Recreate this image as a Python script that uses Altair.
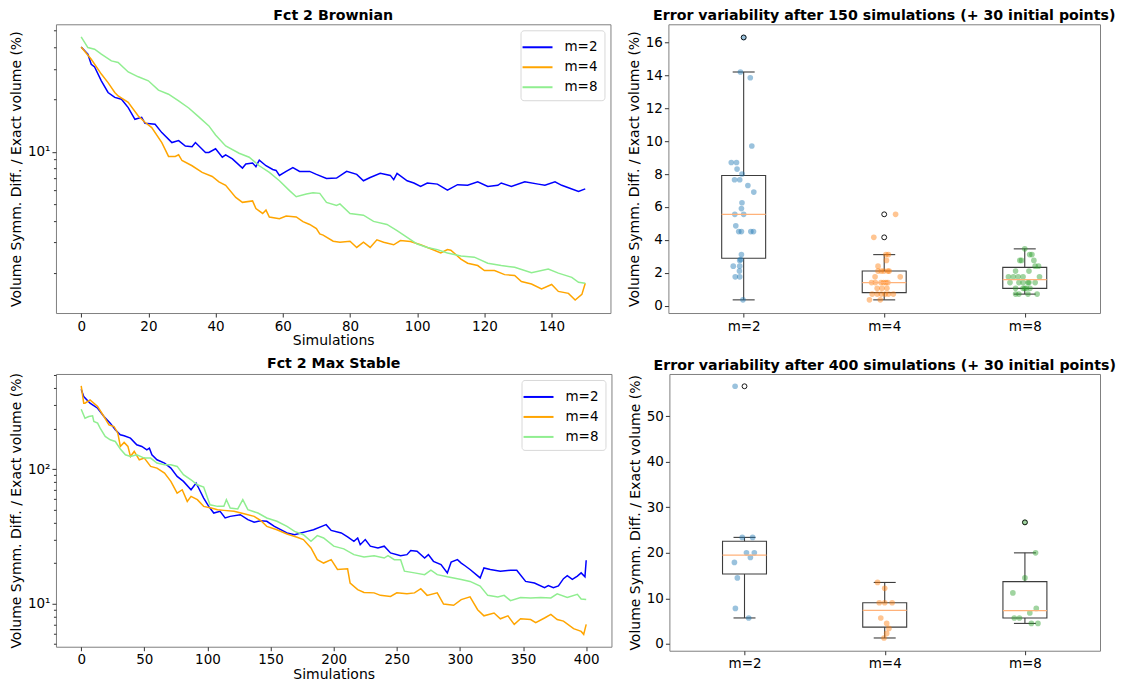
import altair as alt
import pandas as pd

CATS = ["m=2", "m=4", "m=8"]
LINE_COLORS = ["blue", "orange", "lightgreen"]
BOX_COLORS = ["#1f77b4", "#ff7f0e", "#2ca02c"]
YTITLE = "Volume Symm. Diff. / Exact volume (%)"
FONT = "DejaVu Sans"

# ---------- Fct 2 Brownian (error vs simulations) ----------
BR_X_M2 = [0, 2, 3, 4, 6, 8, 10, 12, 14, 16, 18, 19, 22, 24, 27, 29, 31, 33, 34, 37,
           38, 40, 42, 43, 45, 48, 49, 51, 52, 53, 55, 57, 58, 59, 61, 63, 65, 68, 70, 73,
           76, 79, 82, 84, 86, 89, 92, 93, 94, 97, 99, 101, 103, 106, 109, 112, 115, 118, 121, 124,
           125, 128, 132, 136, 138, 141, 143, 145, 148, 150]
BR_Y_M2 = [40.3, 36.6, 32.0, 30.9, 25.7, 22.0, 20.6, 20.1, 18.0, 15.4,
           15.8, 14.6, 14.4, 12.9, 11.3, 11.6, 10.8, 10.7, 11.3, 9.9,
           9.9, 10.4, 9.3, 9.6, 9.1, 8.05, 8.5, 8.6, 8.2, 8.95,
           8.3, 7.9, 7.8, 7.3, 7.7, 8.1, 7.7, 7.7, 7.4, 7.0,
           7.05, 7.7, 7.4, 6.8, 7.1, 7.5, 7.3, 6.9, 7.5, 6.8,
           6.6, 6.3, 6.6, 6.5, 6.0, 6.45, 6.4, 6.7, 6.3, 6.4,
           6.6, 6.3, 6.7, 6.5, 6.4, 6.7, 6.4, 6.2, 5.9, 6.1]
BR_X_M4 = [0, 3, 6, 8, 10, 11, 14, 17, 19, 21, 24, 26, 28, 29, 30, 33, 36, 39, 41, 43,
           46, 48, 51, 52, 54, 55, 56, 59, 61, 64, 66, 68, 70, 71, 72, 75, 77, 80, 82, 84,
           86, 88, 90, 93, 95, 98, 101, 104, 107, 109, 110, 113, 115, 118, 120, 123, 126, 129, 131, 134,
           137, 140, 142, 145, 147, 149, 150]
BR_Y_M4 = [40.3, 34.2, 28.1, 25.1, 22.0, 21.0, 19.3, 16.1, 14.8, 13.8,
           11.3, 9.4, 9.4, 9.6, 8.9, 8.3, 7.6, 7.2, 6.7, 6.4,
           5.45, 5.1, 5.2, 4.7, 4.4, 4.6, 4.2, 4.1, 4.25, 4.2,
           3.95, 3.8, 3.6, 3.35, 3.3, 3.04, 3.0, 3.04, 2.8, 3.0,
           2.8, 3.1, 3.0, 2.9, 3.07, 3.03, 2.9, 2.75, 2.6, 2.72,
           2.7, 2.4, 2.27, 2.2, 2.06, 2.06, 1.95, 1.93, 1.78, 1.72,
           1.61, 1.71, 1.56, 1.52, 1.39, 1.50, 1.74]
BR_X_M8 = [0, 2, 4, 6, 9, 11, 14, 17, 20, 23, 26, 29, 32, 35, 38, 40, 43, 47, 50, 53,
           56, 59, 62, 64, 67, 69, 71, 73, 76, 77, 80, 84, 87, 91, 94, 97, 100, 103, 106, 109,
           113, 117, 121, 125, 129, 134, 139, 142, 146, 148, 150]
BR_Y_M8 = [46.1, 40.0, 39.1, 36.6, 33.5, 32.8, 28.9, 27.1, 25.7, 22.7,
           21.5, 19.7, 17.9, 15.9, 14.1, 12.5, 10.8, 9.8, 9.3, 8.3,
           7.6, 6.8, 5.96, 5.5, 5.7, 5.8, 5.75, 5.1, 4.9, 5.0,
           4.4, 4.3, 3.96, 3.8, 3.5, 3.2, 2.93, 2.8, 2.72, 2.6,
           2.5, 2.46, 2.27, 2.2, 2.15, 2.0, 2.1, 1.99, 1.88, 1.76, 1.74]

# ---------- Fct 2 Max Stable (error vs simulations) ----------
MS_X_M2 = [0, 2, 7, 13, 18, 23, 27, 31, 34, 39, 44, 48, 52, 54, 56, 60, 66, 71, 76, 81,
           87, 91, 93, 97, 101, 105, 110, 114, 118, 126, 132, 137, 142, 147, 153, 158, 163, 169, 174, 179,
           184, 192, 194, 198, 206, 211, 216, 219, 221, 225, 229, 235, 240, 245, 253, 258, 261, 266, 272, 275,
           279, 285, 290, 293, 298, 301, 304, 308, 316, 319, 324, 332, 340, 345, 352, 359, 367, 370, 374, 378,
           382, 385, 389, 393, 396, 399, 400]
MS_Y_M2 = [392.8, 346.4, 309.2, 283.8, 246.1, 219.6, 196.0, 179.9, 176.8, 169.9,
           151.6, 147.4, 139.2, 143.2, 127.8, 117.3, 110.8, 101.7, 88.2, 81.0,
           70.2, 78.7, 72.3, 60.9, 52.8, 47.1, 48.5, 43.3, 44.5, 45.8,
           42.1, 40.2, 41.3, 40.9, 37.5, 35.4, 33.5, 32.5, 33.5, 34.4,
           35.4, 38.0, 38.6, 35.0, 33.5, 31.3, 29.0, 30.7, 27.4, 29.9,
           26.7, 25.9, 26.7, 23.8, 22.7, 23.1, 24.8, 24.5, 21.8, 23.1,
           20.6, 19.5, 16.9, 20.3, 21.2, 20.0, 19.1, 17.9, 15.5, 18.4,
           17.9, 17.4, 17.7, 17.7, 14.6, 14.2, 13.1, 13.6, 13.1, 13.5,
           15.3, 16.1, 15.1, 16.0, 16.9, 15.8, 21.0]
MS_X_M4 = [0, 2, 3, 7, 13, 18, 22, 26, 29, 31, 34, 37, 39, 42, 46, 50, 55, 60, 66, 71,
           76, 80, 84, 87, 92, 97, 103, 108, 113, 121, 129, 137, 142, 147, 155, 163, 171, 176, 182, 187,
           192, 198, 203, 211, 213, 219, 224, 232, 237, 245, 250, 258, 264, 269, 274, 282, 287, 295, 301, 308,
           314, 319, 327, 332, 338, 343, 348, 356, 360, 367, 372, 377, 382, 390, 396, 398, 400]
MS_Y_M4 = [415.8, 309.2, 309.2, 327.2, 292.0, 246.1, 213.4, 207.4, 185.1, 147.4,
           157.8, 147.4, 124.2, 135.3, 117.3, 120.7, 104.7, 101.7, 93.4, 81.0,
           66.3, 70.2, 57.5, 62.7, 59.2, 52.8, 51.3, 49.9, 49.3, 48.5,
           46.6, 44.5, 41.6, 37.5, 35.4, 32.9, 31.1, 29.9, 25.9, 21.2,
           20.0, 21.2, 17.9, 18.1, 14.2, 12.7, 12.1, 12.0, 11.5, 11.3,
           12.0, 11.8, 12.0, 12.9, 11.5, 12.0, 9.9, 9.7, 10.7, 11.2,
           9.0, 8.1, 8.5, 7.7, 8.1, 7.0, 7.7, 7.6, 7.2, 7.8,
           8.3, 7.6, 7.4, 6.5, 6.2, 5.9, 7.0]
MS_X_M8 = [0, 3, 6, 9, 10, 13, 15, 19, 23, 27, 31, 35, 39, 44, 50, 55, 60, 66, 71, 76,
           81, 87, 92, 97, 102, 108, 113, 115, 118, 124, 128, 132, 140, 147, 155, 163, 169, 176, 182, 187,
           192, 200, 208, 216, 224, 232, 240, 243, 248, 253, 256, 264, 272, 277, 282, 290, 301, 308, 316, 322,
           330, 335, 340, 348, 356, 364, 372, 377, 385, 393, 396, 400]
MS_Y_M8 = [278.9, 239.2, 246.1, 248.9, 225.9, 219.6, 201.6, 174.8, 165.2, 160.5,
           140.8, 127.8, 124.2, 127.8, 120.7, 120.7, 110.8, 107.7, 107.7, 104.7,
           90.8, 83.3, 76.5, 73.5, 54.3, 52.8, 52.8, 59.2, 51.3, 50.5,
           59.2, 49.9, 47.1, 43.3, 40.9, 37.5, 34.4, 32.5, 29.0, 32.0,
           30.7, 26.7, 25.5, 23.1, 22.2, 22.7, 21.8, 22.7, 21.2, 21.2,
           17.4, 16.9, 16.4, 17.7, 16.4, 15.8, 15.1, 14.6, 13.5, 11.5,
           11.2, 11.5, 10.5, 11.1, 11.0, 11.1, 11.0, 11.8, 11.1, 11.7,
           10.8, 10.7]

# ---------- Error variability after 150 simulations ----------
B150_M2_VAL = [16.3, 14.2, 13.85, 9.7, 8.7, 8.7, 8.3, 8.0, 7.65, 7.65,
               7.3, 6.9, 6.25, 5.9, 5.55, 5.55, 4.85, 4.5, 4.5, 4.5,
               4.5, 3.1, 2.8, 2.75, 2.4, 2.4, 2.1, 1.75, 1.75, 0.35]
B150_M2_OFF = [0.0, -0.023, 0.047, 0.058, -0.088, -0.051, -0.047, -0.012, -0.065, -0.028,
               0.030, 0.072, -0.012, -0.016, -0.063, 0.0, -0.056, -0.035, -0.016, 0.051,
               0.070, -0.016, -0.021, -0.028, -0.074, -0.028, -0.030, -0.060, -0.028, -0.005]
B150_M4_VAL = [0.35, 0.35, 0.7, 0.7, 0.7, 0.7, 0.7, 0.7, 1.05, 1.05,
               1.05, 1.4, 1.4, 1.4, 1.4, 1.4, 1.4, 1.75, 1.75, 2.1,
               2.1, 2.1, 2.1, 2.1, 2.4, 2.75, 3.1, 3.1, 4.15, 5.55]
B150_M4_OFF = [-0.105, -0.028, -0.086, -0.021, 0.030, 0.065, -0.050, 0.007, -0.050, 0.019,
               -0.016, -0.090, -0.023, -0.005, 0.026, -0.063, 0.012, -0.065, 0.114, -0.044,
               -0.021, -0.002, 0.026, 0.035, -0.044, 0.016, 0.012, 0.030, -0.074, 0.081]
B150_M8_VAL = [0.7, 0.7, 0.7, 0.7, 1.05, 1.05, 1.05, 1.05, 1.05, 1.4,
               1.4, 1.4, 1.4, 1.4, 1.4, 1.75, 1.75, 1.75, 1.75, 1.75,
               2.1, 2.1, 2.4, 2.4, 2.75, 2.75, 2.75, 3.1, 3.1, 3.45]
B150_M8_OFF = [-0.042, 0.023, 0.088, -0.065, -0.065, -0.012, 0.0, 0.037, 0.012, -0.105,
               -0.042, 0.023, 0.030, 0.074, -0.012, -0.116, -0.081, -0.047, -0.012, 0.105,
               -0.065, 0.030, 0.074, 0.098, -0.035, -0.023, 0.065, 0.051, 0.035, 0.0]

# ---------- Error variability after 400 simulations ----------
B400_M2_VAL = [56.6, 23.4, 23.4, 20.0, 20.0, 19.0, 17.9, 14.5, 7.8, 5.7]
B400_M2_OFF = [-0.067, -0.016, 0.058, 0.014, 0.070, 0.042, -0.072, -0.051, -0.065, 0.030]
B400_M4_VAL = [13.5, 12.2, 9.05, 9.05, 9.05, 5.7, 4.5, 3.4, 2.3, 1.3]
B400_M4_OFF = [-0.051, 0.0, -0.039, 0.0, 0.053, -0.028, 0.014, 0.030, 0.014, -0.005]
B400_M8_VAL = [26.7, 20.0, 14.5, 11.2, 7.8, 6.8, 5.7, 5.7, 4.5, 4.5]
B400_M8_OFF = [0.0, 0.076, 0.0, -0.086, 0.081, 0.035, -0.076, -0.039, 0.046, 0.093]

TITLE_SIZE = 14.2


def title(t):
    return alt.TitleParams(t, fontSize=TITLE_SIZE, fontWeight="bold", font=FONT,
                           anchor="middle", offset=1, color="black")


def line_panel(series, ttl, xdom, xvals, ydom, yvals, w, h):
    rows = []
    for cat, xs, ys in series:
        for x, y in zip(xs, ys):
            rows.append({"series": cat, "sim": x, "err": y})
    df = pd.DataFrame(rows)
    lab = "datum.value == 10 ? '10\u00b9' : datum.value == 100 ? '10\u00b2' : ''"
    return alt.Chart(df).mark_line(strokeWidth=1.5).encode(
        x=alt.X("sim:Q", scale=alt.Scale(domain=xdom, nice=False, zero=False),
                axis=alt.Axis(values=xvals, title="Simulations", titlePadding=1)),
        y=alt.Y("err:Q", scale=alt.Scale(type="log", domain=ydom, nice=False),
                axis=alt.Axis(values=yvals, labelExpr=lab, title=YTITLE,
                              tickSize={"condition": {"test": "datum.value == 10 || datum.value == 100",
                                                      "value": 4}, "value": 2.5})),
        color=alt.Color("series:N", scale=alt.Scale(domain=CATS, range=LINE_COLORS),
                        legend=alt.Legend(orient="top-right", title=None, offset=6,
                                          symbolType="M-1.5,0L1.5,0", symbolSize=400,
                                          symbolStrokeWidth=2, labelFontSize=13.5,
                                          labelFont=FONT, fillColor="white",
                                          strokeColor="#d8d8d8", cornerRadius=3,
                                          padding=6, rowPadding=2, labelOffset=16)),
        detail="series:N",
    ).properties(width=w, height=h, title=title(ttl))


def box_panel(vals_list, offs_list, ttl, ydom, yvals, w, h):
    rows = []
    for i, (cat, vals, offs) in enumerate(zip(CATS, vals_list, offs_list)):
        for v, o in zip(vals, offs):
            rows.append({"grp": cat, "pos": i + 1, "value": v, "xj": i + 1 + o})
    df = pd.DataFrame(rows)
    base = alt.Chart(df)
    xsc = alt.Scale(domain=[0.5, 3.5], nice=False, zero=False)
    ysc = alt.Scale(domain=ydom, nice=False, zero=False)
    lab = "datum.value == 1 ? '%s' : datum.value == 2 ? '%s' : '%s'" % tuple(CATS)
    xax = alt.Axis(values=[1, 2, 3], labelExpr=lab, title=None)
    yax = alt.Axis(values=yvals, title=YTITLE)

    def X(f):
        return alt.X(f, type="quantitative", scale=xsc, axis=xax)

    def Y(f):
        return alt.Y(f, type="quantitative", scale=ysc, axis=yax)

    stats = base.transform_aggregate(q1="q1(value)", q3="q3(value)", med="median(value)",
                                     groupby=["pos"])
    fences = base.transform_joinaggregate(q1="q1(value)", q3="q3(value)", groupby=["pos"]) \
        .transform_calculate(lo="datum.q1 - 1.5*(datum.q3 - datum.q1)",
                             hi="datum.q3 + 1.5*(datum.q3 - datum.q1)")
    wh = fences.transform_filter("datum.value >= datum.lo && datum.value <= datum.hi") \
        .transform_aggregate(wlo="min(value)", whi="max(value)", bq1="max(q1)", bq3="max(q3)",
                             groupby=["pos"])
    out = fences.transform_filter("datum.value < datum.lo || datum.value > datum.hi")

    gray = "#3c3c3c"
    r_lo = wh.mark_rule(color=gray, strokeWidth=1.1).encode(x=X("pos"), y=Y("wlo"), y2="bq1:Q")
    r_hi = wh.mark_rule(color=gray, strokeWidth=1.1).encode(x=X("pos"), y=Y("bq3"), y2="whi:Q")
    c_lo = wh.mark_tick(orient="horizontal", size=22, thickness=1.1, color=gray, opacity=1) \
        .encode(x=X("pos"), y=Y("wlo"))
    c_hi = wh.mark_tick(orient="horizontal", size=22, thickness=1.1, color=gray, opacity=1) \
        .encode(x=X("pos"), y=Y("whi"))
    box = stats.mark_bar(size=44, fill="white", fillOpacity=0, stroke=gray, strokeWidth=1.1) \
        .encode(x=X("pos"), y=Y("q1"), y2="q3:Q")
    pts = base.mark_circle(size=32, opacity=0.45).encode(
        x=X("xj"), y=Y("value"),
        fill=alt.Fill("grp:N", scale=alt.Scale(domain=CATS, range=BOX_COLORS), legend=None))
    med = stats.mark_tick(orient="horizontal", size=44, thickness=1.2, color="#ffb27a", opacity=1) \
        .encode(x=X("pos"), y=Y("med"))
    outl = out.mark_point(shape="circle", filled=False, color="black", size=24, strokeWidth=0.9,
                          opacity=1).encode(x=X("pos"), y=Y("value"))
    return alt.layer(r_lo, r_hi, c_lo, c_hi, box, pts, med, outl).properties(
        width=w, height=h, title=title(ttl))


tl = line_panel([("m=2", BR_X_M2, BR_Y_M2), ("m=4", BR_X_M4, BR_Y_M4), ("m=8", BR_X_M8, BR_Y_M8)],
                "Fct 2 Brownian", [-7.5, 157.5], [0, 20, 40, 60, 80, 100, 120, 140],
                [1.17, 54.5], [2, 3, 4, 5, 6, 7, 8, 9, 10, 20, 30, 40, 50], 555, 289)
bl = line_panel([("m=2", MS_X_M2, MS_Y_M2), ("m=4", MS_X_M4, MS_Y_M4), ("m=8", MS_X_M8, MS_Y_M8)],
                "Fct 2 Max Stable", [-20, 420], [0, 50, 100, 150, 200, 250, 300, 350, 400],
                [4.77, 510], [5, 6, 7, 8, 9, 10, 20, 30, 40, 50, 60, 70, 80, 90, 100, 200, 300, 400, 500],
                556, 273)
tr = box_panel([B150_M2_VAL, B150_M4_VAL, B150_M8_VAL], [B150_M2_OFF, B150_M4_OFF, B150_M8_OFF],
               "Error variability after 150 simulations (+ 30 initial points)",
               [-0.45, 17.1], [0, 2, 4, 6, 8, 10, 12, 14, 16], 432, 289)
br = box_panel([B400_M2_VAL, B400_M4_VAL, B400_M8_VAL], [B400_M2_OFF, B400_M4_OFF, B400_M8_OFF],
               "Error variability after 400 simulations (+ 30 initial points)",
               [-1.5, 59.3], [0, 10, 20, 30, 40, 50], 431, 277)

row1 = alt.hconcat(tl, tr, spacing=15).resolve_scale(color="independent", fill="independent") \
    .resolve_legend(color="independent", fill="independent")
row2 = alt.hconcat(bl, br, spacing=15).resolve_scale(color="independent", fill="independent") \
    .resolve_legend(color="independent", fill="independent")

chart = alt.vconcat(row1, row2, spacing=8) \
    .properties(padding=0) \
    .resolve_scale(color="independent", fill="independent") \
    .resolve_legend(color="independent", fill="independent") \
    .configure_view(stroke="#808080", strokeWidth=1) \
    .configure_axis(
        labelFont=FONT, labelFontSize=13.5, labelColor="black", titleFont=FONT, titleFontSize=14,
        titleFontWeight="normal", titleColor="black", tickColor="#333", tickSize=4, grid=False,
        domain=False, labelPadding=2)

chart.save("out.html", embed_options={"renderer": "svg", "actions": False})
